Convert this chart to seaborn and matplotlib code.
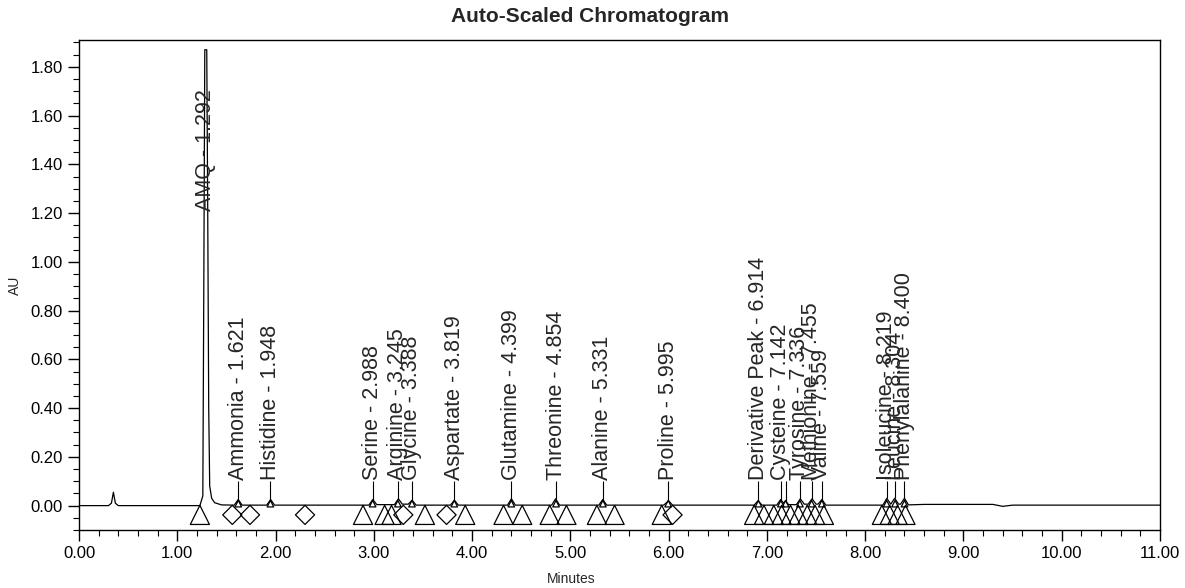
"""Auto-scaled chromatogram of an amino acid run, redrawn from a scanned report."""
import pandas as pd
import seaborn as sns
import matplotlib.pyplot as plt

sns.set_theme(style="ticks")
plt.rcParams["font.family"] = ["Liberation Sans", "DejaVu Sans"]


############################## Data.

# Detector trace, minutes vs AU.
trace_min = [0.00, 0.30, 0.33, 0.35, 0.37, 0.40,
             1.23, 1.26, 1.27, 1.28, 1.30, 1.31, 1.32, 1.33, 1.35, 1.38, 1.45,
             1.58, 1.62, 1.66, 1.91, 1.95, 1.99,
             2.95, 2.99, 3.03, 3.21, 3.25, 3.29, 3.35, 3.39, 3.43,
             3.78, 3.82, 3.86, 4.36, 4.40, 4.44, 4.81, 4.85, 4.89,
             5.29, 5.33, 5.37, 5.95, 6.00, 6.04,
             6.87, 6.91, 6.95, 7.10, 7.14, 7.17, 7.19, 7.22,
             7.30, 7.34, 7.38, 7.42, 7.46, 7.50, 7.52, 7.56, 7.60,
             8.18, 8.22, 8.26, 8.30, 8.34, 8.36, 8.40, 8.44,
             8.60, 9.30, 9.40, 9.50, 11.00]
trace_au = [0.000, 0.000, 0.010, 0.055, 0.010, 0.000,
            0.000, 0.040, 0.900, 1.870, 1.870, 1.200, 0.400, 0.080, 0.030, 0.012, 0.003,
            0.002, 0.025, 0.002, 0.002, 0.025, 0.002,
            0.002, 0.025, 0.004, 0.004, 0.028, 0.006, 0.006, 0.022, 0.002,
            0.002, 0.022, 0.002, 0.002, 0.028, 0.002, 0.002, 0.028, 0.002,
            0.002, 0.025, 0.002, 0.002, 0.020, 0.002,
            0.002, 0.020, 0.002, 0.002, 0.025, 0.010, 0.020, 0.004,
            0.004, 0.028, 0.006, 0.006, 0.028, 0.006, 0.006, 0.025, 0.002,
            0.002, 0.030, 0.006, 0.030, 0.006, 0.006, 0.030, 0.003,
            0.005, 0.005, -0.003, 0.002, 0.002]

# Integrated peaks: name, retention time and peak top.
peak_names = ["AMQ", "Ammonia", "Histidine", "Serine", "Arginine", "Glycine",
              "Aspartate", "Glutamine", "Threonine", "Alanine", "Proline",
              "Derivative Peak", "Cysteine", "", "Tyrosine", "Methionine",
              "Valine", "Isoleucine", "Leucine", "Phenylalanine"]
peak_rt = [1.292, 1.621, 1.948, 2.988, 3.245, 3.388, 3.819, 4.399, 4.854,
           5.331, 5.995, 6.914, 7.142, 7.190, 7.336, 7.455, 7.559, 8.219,
           8.304, 8.400]
peak_label = ["1.292", "1.621", "1.948", "2.988", "3.245", "3.388", "3.819",
              "4.399", "4.854", "5.331", "5.995", "6.914", "7.142", "",
              "7.336", "7.455", "7.559", "8.219", "8.304", "8.400"]
peak_top = [1.870, 0.025, 0.025, 0.025, 0.028, 0.022, 0.022, 0.028, 0.028,
            0.025, 0.020, 0.020, 0.025, 0.020, 0.028, 0.028, 0.025, 0.030,
            0.030, 0.030]

# Baseline start/end markers drawn under the trace.
triangle_min = [1.23, 2.89, 3.11, 3.18, 3.52, 3.93, 4.32, 4.51, 4.79, 4.96,
                5.27, 5.45, 5.93, 6.87, 6.97, 7.07, 7.15, 7.24, 7.32, 7.41,
                7.49, 7.58, 8.17, 8.25, 8.33, 8.41]
diamond_min = [1.56, 1.74, 2.30, 3.30, 3.74, 6.04]


############################## Plot parameters.

FIGSIZE = (11.85, 5.88)
XLIM = (0, 11)
YLIM = (-0.10, 1.91)
LABEL_Y = 0.10      # where the peak label text starts
AMQ_LABEL_Y = 1.21  # the big reagent peak has its label higher up
MARKER_Y = -0.038
LABEL_SIZE = 15.5
TICK_SIZE = 12

fig = plt.figure(figsize=FIGSIZE, dpi=100)
ax = fig.add_axes([79/1185, 1-530/588, 1081/1185, 490/588])

trace = pd.DataFrame({"Minutes": trace_min, "AU": trace_au})
sns.lineplot(data=trace, x="Minutes", y="AU", color="black", lw=0.9,
             sort=False, ax=ax)

# baseline markers
marker_kw = dict(facecolor="none", edgecolor="black", linewidth=0.9,
                 legend=False, ax=ax, zorder=3)
sns.scatterplot(x=triangle_min, y=[MARKER_Y]*len(triangle_min),
                marker="^", s=190, **marker_kw)
sns.scatterplot(x=diamond_min, y=[MARKER_Y]*len(diamond_min),
                marker="D", s=95, **marker_kw)
# little apex markers on the small peaks
sns.scatterplot(x=peak_rt[1:], y=[0.008]*(len(peak_rt)-1),
                marker="^", s=22, **marker_kw)

# peak labels with leader lines
for name, rt, lab, top in zip(peak_names, peak_rt, peak_label, peak_top):
    if name == "AMQ":
        ax.text(rt, AMQ_LABEL_Y, f"{name} - {lab}", rotation=90,
                ha="center", va="bottom", fontsize=LABEL_SIZE)
        continue
    ax.vlines(rt, top, LABEL_Y, color="black", lw=0.8)
    if name:
        ax.text(rt, LABEL_Y + 0.005, f"{name} - {lab}", rotation=90,
                ha="center", va="bottom", fontsize=LABEL_SIZE)

# a e s t h e t i c s
ax.set_xlim(*XLIM)
ax.set_ylim(*YLIM)
ax.xaxis.set(major_locator=plt.MultipleLocator(1),
             minor_locator=plt.MultipleLocator(0.2),
             major_formatter=plt.FormatStrFormatter("%.2f"))
ax.yaxis.set(major_locator=plt.MultipleLocator(0.2),
             minor_locator=plt.MultipleLocator(0.05),
             major_formatter=plt.FormatStrFormatter("%.2f"))
ax.tick_params(which="major", length=8, width=1, labelsize=TICK_SIZE,
               direction="out", color="black", labelcolor="black")
ax.tick_params(which="minor", length=4, width=0.8, direction="out",
               color="black")
ax.set_xlabel("Minutes", fontsize=10)
ax.set_ylabel("AU", fontsize=10)
ax.xaxis.set_label_coords(0.455, -0.085)
ax.yaxis.set_label_coords(-0.053, 0.5)
for side in ["left", "right", "top", "bottom"]:
    ax.spines[side].set(visible=True, color="black", linewidth=1)
ax.set_facecolor("white")

fig.text(0.498, 1-17/588, "Auto-Scaled Chromatogram", ha="center",
         va="center", fontsize=15, fontweight="bold")

plt.savefig("out.png", dpi=100, facecolor="white")
plt.close()
